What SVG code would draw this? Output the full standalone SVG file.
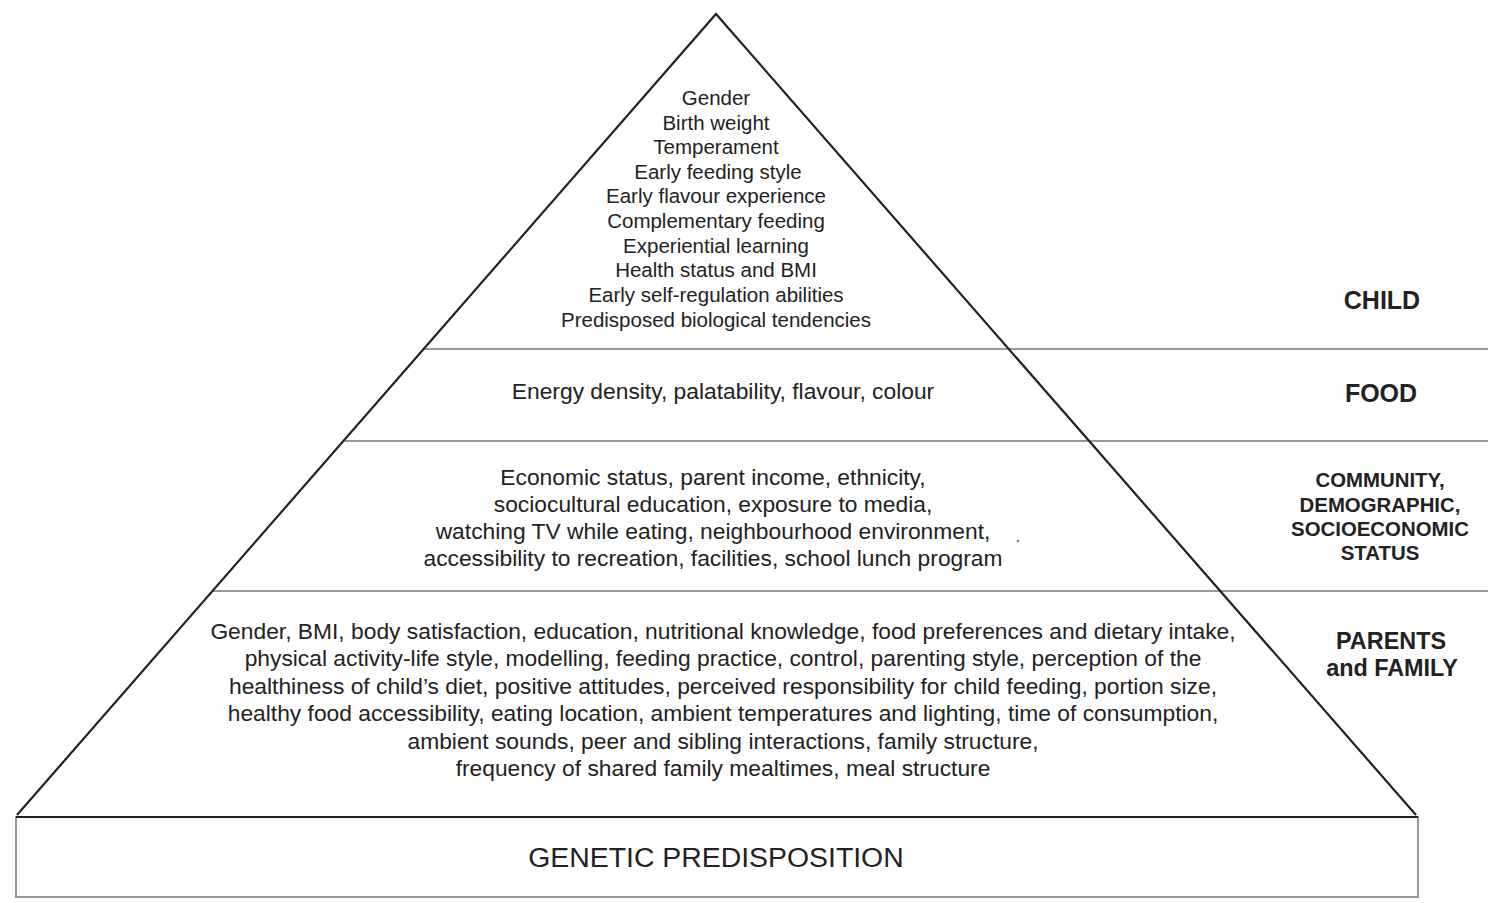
<svg xmlns="http://www.w3.org/2000/svg" width="1488" height="903" viewBox="0 0 1488 903">
<style>
.t{font-family:"Liberation Sans",Arial,sans-serif;fill:#222;text-anchor:middle}
.c{font-size:20.5px}
.m{font-size:22.8px}
.lab{font-family:"Liberation Sans",Arial,sans-serif;fill:#222;text-anchor:middle;font-weight:bold}
.edge{stroke:#222;stroke-width:2.2;fill:none}
.div{stroke:#999;stroke-width:2;fill:none}
</style>
<rect width="1488" height="903" fill="#fff"/>
<g id="base">
<rect x="16" y="817" width="1402" height="80" fill="#fff" stroke="#999" stroke-width="2"/>
<line x1="16" y1="817" x2="1418" y2="817" class="edge" stroke-width="3"/>
<text class="t" x="716" y="867" font-size="28.4">GENETIC PREDISPOSITION</text>
</g>
<g id="dividers">
<line class="div" x1="424" y1="349" x2="1488" y2="349"/>
<line class="div" x1="343" y1="441" x2="1488" y2="441"/>
<line class="div" x1="212" y1="591" x2="1488" y2="591"/>
</g>
<g id="pyramid">
<polyline class="edge" points="17,815 716,14 1416,815"/>
</g>
<g id="child">
<text class="t c" x="716" y="105">Gender</text>
<text class="t c" x="716" y="130">Birth weight</text>
<text class="t c" x="716" y="154">Temperament</text>
<text class="t c" x="718" y="179">Early feeding style</text>
<text class="t c" x="716" y="203">Early flavour experience</text>
<text class="t c" x="716" y="228">Complementary feeding</text>
<text class="t c" x="716" y="253">Experiential learning</text>
<text class="t c" x="716" y="277">Health status and BMI</text>
<text class="t c" x="716" y="302">Early self-regulation abilities</text>
<text class="t c" x="716" y="327">Predisposed biological tendencies</text>
<text class="lab" x="1382" y="309" font-size="25">CHILD</text>
</g>
<g id="food">
<text class="t m" x="723" y="399">Energy density, palatability, flavour, colour</text>
<text class="lab" x="1381" y="402" font-size="25">FOOD</text>
</g>
<g id="community">
<text class="t m" x="713" y="485">Economic status, parent income, ethnicity,</text>
<text class="t m" x="713" y="512">sociocultural education, exposure to media,</text>
<text class="t m" x="713" y="539">watching TV while eating, neighbourhood environment,</text>
<text class="t m" x="713" y="566">accessibility to recreation, facilities, school lunch program</text>
<circle cx="1018" cy="541" r="1.3" fill="#777"/>
<text class="lab" x="1380" y="487" font-size="20.4">COMMUNITY,</text>
<text class="lab" x="1380" y="512" font-size="20.4">DEMOGRAPHIC,</text>
<text class="lab" x="1380" y="536" font-size="20.4">SOCIOECONOMIC</text>
<text class="lab" x="1380" y="560" font-size="20.4">STATUS</text>
</g>
<g id="parents">
<text class="t m" x="723" y="639">Gender, BMI, body satisfaction, education, nutritional knowledge, food preferences and dietary intake,</text>
<text class="t m" x="723" y="666">physical activity-life style, modelling, feeding practice, control, parenting style, perception of the</text>
<text class="t m" x="723" y="694">healthiness of child’s diet, positive attitudes, perceived responsibility for child feeding, portion size,</text>
<text class="t m" x="723" y="721">healthy food accessibility, eating location, ambient temperatures and lighting, time of consumption,</text>
<text class="t m" x="723" y="749">ambient sounds, peer and sibling interactions, family structure,</text>
<text class="t m" x="723" y="776">frequency of shared family mealtimes, meal structure</text>
<text class="lab" x="1391" y="649" font-size="23.4">PARENTS</text>
<text class="lab" x="1392" y="676" font-size="23.4">and FAMILY</text>
</g>
</svg>
